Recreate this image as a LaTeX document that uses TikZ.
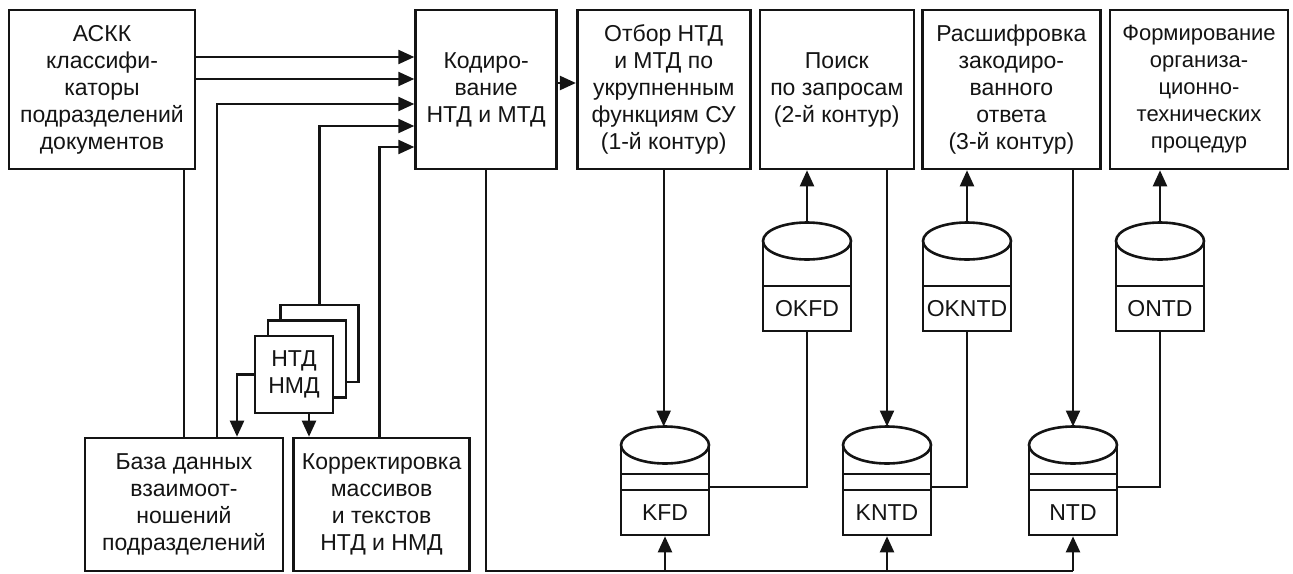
\documentclass[tikz,border=0pt]{standalone}
\usepackage{fontspec}
\setmainfont{Liberation Sans}
\usepackage{tikz}
\usetikzlibrary{
  arrows.meta,
  positioning,
  calc
}
\definecolor{inkcolor}{RGB}{20, 20, 20}
\tikzset{
blocktext/.style={
  align=center,
  font=\fontsize{23}{27}\selectfont,
  text=inkcolor
},
block/.style={
  draw=inkcolor,
  line width=2.6pt,
  fill=white,
  inner sep=0pt,
  blocktext
},
topblock/.style={
  block,
  minimum height=159pt
},
lowblock/.style={
  block,
  minimum height=133pt
},
sheet/.style={
  block,
  minimum width=78pt,
  minimum height=77pt
},
dbbox/.style={
  block,
  minimum width=88pt,
  minimum height=45pt
},
wire/.style={
  draw=inkcolor,
  line width=2.3pt
},
arrow/.style={
  wire,
  -{Triangle[length=16pt,width=14pt]}
},
pics/store/.style 2 args={
  code={
    \draw[wire, line width=2.6pt] (-44,0) -- (-44,45) (44,0) -- (44,45);
    \draw[wire, line width=2.6pt, fill=white] (0,0) ellipse [x radius=44pt, y radius=18.5pt];
    \ifnum#2=1 \draw[wire, line width=2.6pt] (-44,29) -- (44,29); \fi
    \node[dbbox] (-db) at (0,67.5) {#1};
    \coordinate (-top) at (0,-18.5);
    \coordinate (-side) at (44,42);
  }
}
}

\begin{document}
\begin{tikzpicture}[x=1pt, y=-1pt]
\useasboundingbox (0,0) rectangle (1293,573);

% top row
\node[topblock, minimum width=186pt] (askk) at (102,89.5) {АСКК\\классифи-\\каторы\\подразделений\\документов};
\node[topblock, minimum width=141pt, right=218pt of askk] (kod) {Кодиро-\\вание\\НТД и МТД};
\node[topblock, minimum width=173pt, right=18pt of kod] (otbor) {Отбор НТД\\и МТД по\\укрупненным\\функциям СУ\\(1-й контур)};
\node[topblock, minimum width=154pt, right=7pt of otbor] (poisk) {Поиск\\по запросам\\(2-й контур)};
\node[topblock, minimum width=178pt, right=6pt of poisk] (rassh) {Расшифровка\\закодиро-\\ванного\\ответа\\(3-й контур)};
\node[topblock, minimum width=178pt, right=7pt of rassh, font=\fontsize{22}{27}\selectfont] (form) {Формирование\\организа-\\ционно-\\технических\\процедур};

% bottom left
\node[lowblock, minimum width=198pt] (baza) at (184,504.5) {База данных\\взаимоот-\\ношений\\подразделений};
\node[lowblock, minimum width=176pt, right=8pt of baza] (korr) {Корректировка\\массивов\\и текстов\\НТД и НМД};

% stack of documents
\node[sheet] (stk3) at (319.5,343.5) {};
\node[sheet] (stk2) at (307,359) {};
\node[sheet] (stk1) at (294,374.5) {НТД\\НМД};

% data stores
\pic (okfd) at (807,241) {store={OKFD}{0}};
\pic (okntd) at (967,241) {store={OKNTD}{0}};
\pic (ontd) at (1160,241) {store={ONTD}{0}};
\pic (kfd) at (665,445) {store={KFD}{1}};
\pic (kntd) at (887,445) {store={KNTD}{1}};
\pic (ntd) at (1073,445) {store={NTD}{1}};

% inputs of coding
\draw[arrow] ([yshift=32.5pt]askk.east) -- ([yshift=32.5pt]kod.west);
\draw[arrow] ([yshift=10.5pt]askk.east) -- ([yshift=10.5pt]kod.west);
\draw[wire] (askk.south -| baza.north) -- (baza.north);
\draw[arrow] ([xshift=33pt]baza.north) |- ([yshift=-14.5pt]kod.west);
\draw[arrow] (stk3.north) |- ([yshift=-36.5pt]kod.west);
\draw[arrow] ([xshift=-2pt]korr.north) |- ([yshift=-57.5pt]kod.west);
\draw[arrow] (stk1.west) -| ([xshift=53pt]baza.north);
\draw[arrow] ([xshift=15pt]stk1.south) -- ([xshift=15pt]stk1.south |- korr.north);
\draw[arrow] ([yshift=6.5pt]kod.east) -- ([yshift=6.5pt]otbor.west);

% stores and tasks
\draw[arrow] (otbor.south) -- (otbor.south |- kfd-top);
\draw[arrow] (okfd-top) -- (okfd-top |- poisk.south);
\draw[arrow] (poisk.south -| kntd-top) -- (kntd-top);
\draw[arrow] (okntd-top) -- (okntd-top |- rassh.south);
\draw[arrow] (rassh.south -| ntd-top) -- (ntd-top);
\draw[arrow] (ontd-top) -- (ontd-top |- form.south);
\draw[wire] (okfd-db.south) |- (kfd-side);
\draw[wire] (okntd-db.south) |- (kntd-side);
\draw[wire] (ontd-db.south) |- (ntd-side);

% bus from coding
\coordinate (bus) at (0,571);
\draw[wire] (kod.south) |- (ntd-db.south |- bus);
\draw[arrow] (kfd-db.south |- bus) -- (kfd-db.south);
\draw[arrow] (kntd-db.south |- bus) -- (kntd-db.south);
\draw[arrow] (ntd-db.south |- bus) -- (ntd-db.south);
\end{tikzpicture}
\end{document}
